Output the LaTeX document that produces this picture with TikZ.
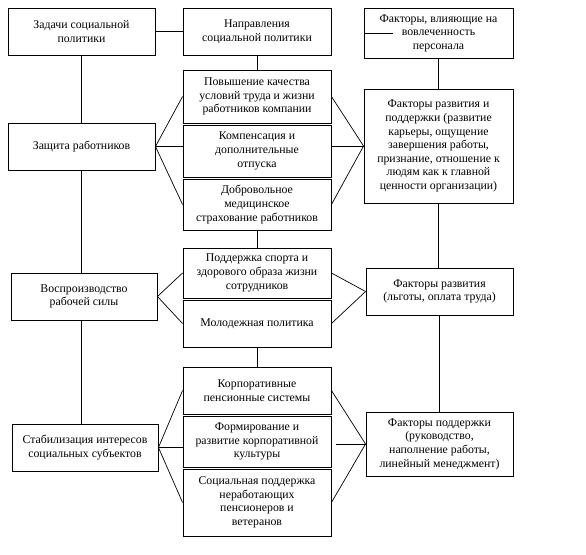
\documentclass[tikz,border=0pt]{standalone}
\usepackage{fontspec}
\setmainfont{Liberation Serif}
\usepackage{tikz}
\usetikzlibrary{calc}
\tikzset{
  % plain framed text box, size given per node
  blk/.style  = {rectangle, draw=black, line width=0.9pt, fill=white, align=center,
                 inner sep=2pt, font=\fontsize{11.8}{13.6}\selectfont},
  lane/.style = {draw=black, line width=0.7pt},
  stem/.style = {draw=black, line width=0.9pt},
}
\begin{document}
\begin{tikzpicture}[x=1pt, y=-1pt]
\useasboundingbox (0,0) rectangle (586,554);
% left column: tasks
\node[blk, minimum width=147pt, minimum height=47pt] (L1) at (81.5,31.5)  {Задачи социальной\\политики};
\node[blk, minimum width=147pt, minimum height=47pt] (L2) at (81.5,146.5) {Защита работников};
\node[blk, minimum width=146pt, minimum height=47pt] (L3) at (84,296.5)   {Воспроизводство\\рабочей силы};
\node[blk, minimum width=146pt, minimum height=47pt] (L4) at (85,447.5)   {Стабилизация интересов\\социальных субъектов};
% middle column: directions
\node[blk, minimum width=148pt, minimum height=47pt] (M0) at (257,31.5)  {Направления\\социальной политики};
\node[blk, minimum width=148pt, minimum height=53pt] (M1) at (257,96.5)  {Повышение качества\\условий труда и жизни\\работников компании};
\node[blk, minimum width=148pt, minimum height=52pt] (M2) at (257,151)   {Компенсация и\\дополнительные\\отпуска};
\node[blk, minimum width=148pt, minimum height=51pt] (M3) at (257,204.5) {Добровольное\\медицинское\\страхование работников};
\node[blk, minimum width=148pt, minimum height=50pt] (M4) at (257,273)   {Поддержка спорта и\\здорового образа жизни\\сотрудников};
\node[blk, minimum width=148pt, minimum height=47pt] (M5) at (257,323.5) {Молодежная политика};
\node[blk, minimum width=148pt, minimum height=47pt] (M6) at (257,390.5) {Корпоративные\\пенсионные системы};
\node[blk, minimum width=148pt, minimum height=51pt] (M7) at (257,441.5) {Формирование и\\развитие корпоративной\\культуры};
\node[blk, minimum width=148pt, minimum height=67pt] (M8) at (257,502.5) {Социальная поддержка\\неработающих\\пенсионеров и\\ветеранов};
% right column: factors
\node[blk, minimum width=149pt, minimum height=50pt]  (R0) at (438.5,33)  {Факторы, влияющие на\\вовлеченность\\персонала};
\node[blk, minimum width=149pt, minimum height=114pt] (R1) at (438.5,146) {Факторы развития и\\поддержки (развитие\\карьеры, ощущение\\завершения работы,\\признание, отношение к\\людям как к главной\\ценности организации)};
\node[blk, minimum width=147pt, minimum height=47pt]  (R2) at (439.5,291.5) {Факторы развития\\(льготы, оплата труда)};
\node[blk, minimum width=147pt, minimum height=64pt]  (R3) at (439.5,444) {Факторы поддержки\\(руководство,\\наполнение работы,\\линейный менеджмент)};
% stems
\draw[stem] (L1.east) -- (M0.west);
\draw[stem] (R0.west) -- ++(29,0);
\foreach \a/\b in {L1/L2,M0/M1,M3/M4,M5/M6,R0/R1,R1/R2,R2/R3}
  {\draw[stem] (\a.south) -- (\a.south |- \b.north);}
\draw[stem] (L2.south) -- (L2.south |- L3.north);
\draw[stem] (L2.south |- L3.south) -- (L2.south |- L4.north);
% fans to the directions
\foreach \a/\b in {L2/M1,L2/M3,L3/M4,L3/M5,L4/M6,L4/M8} {\draw[lane] (\a.east) -- (\b.west);}
\foreach \a/\b in {M1/R1,M3/R1,M4/R2,M5/R2,M6/R3,M8/R3} {\draw[lane] (\a.east) -- (\b.west);}
\draw[stem] (L2.east) -- (L2.east -| M2.west);
\draw[stem] (L4.east) -- (L4.east -| M7.west);
\draw[stem] (M2.east |- R1.west) -- (R1.west);
\draw[stem] ($(M7.east |- R3.west)+(5,0)$) -- (R3.west);
\end{tikzpicture}
\end{document}
